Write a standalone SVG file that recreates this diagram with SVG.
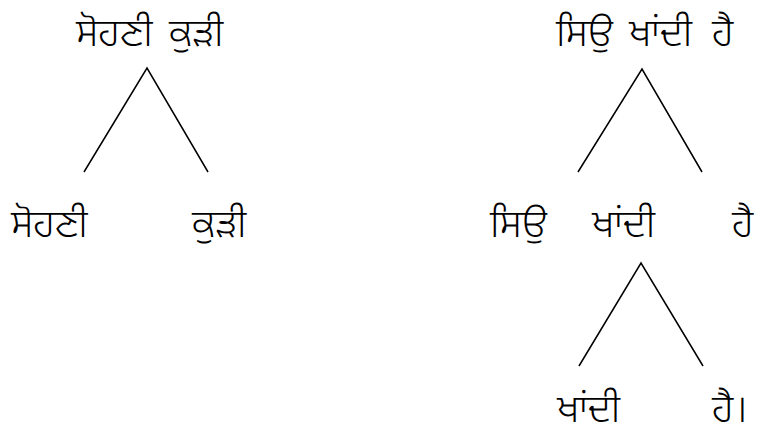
<svg xmlns="http://www.w3.org/2000/svg" width="758" height="432" viewBox="0 0 758 432">
<style>
text{font-family:"Noto Sans Gurmukhi","Lohit Gurmukhi","Noto Sans","DejaVu Sans",sans-serif;font-size:39px;font-weight:300;fill:#000}
.e{stroke:#000;stroke-width:1.5;fill:none}
</style>
<rect width="758" height="432" fill="#fff"/>
<g id="connectors">
<path class="e" d="M84,172 L147,68 L208,172"/>
<path class="e" d="M578,172 L642,69 L702,172"/>
<path class="e" d="M579,366 L641,263 L703,366"/>
</g>
<g id="n1"><text y="46"><tspan x="76">ਸੋਹਣੀ</tspan><tspan x="169">ਕੁੜੀ</tspan></text></g>
<g id="n2"><text x="11" y="237">ਸੋਹਣੀ</text></g>
<g id="n3"><text x="192" y="237">ਕੁੜੀ</text></g>
<g id="n4"><text y="46"><tspan x="556">ਸਿਉ</tspan><tspan x="629">ਖਾਂਦੀ</tspan><tspan x="712">ਹੈ</tspan></text></g>
<g id="n5"><text x="490" y="237">ਸਿਉ</text></g>
<g id="n6"><text x="592" y="237">ਖਾਂਦੀ</text></g>
<g id="n7"><text x="732" y="237">ਹੈ</text></g>
<g id="n8"><text x="557" y="422">ਖਾਂਦੀ</text></g>
<g id="n9"><text x="712" y="422">ਹੈ।</text></g>
</svg>
